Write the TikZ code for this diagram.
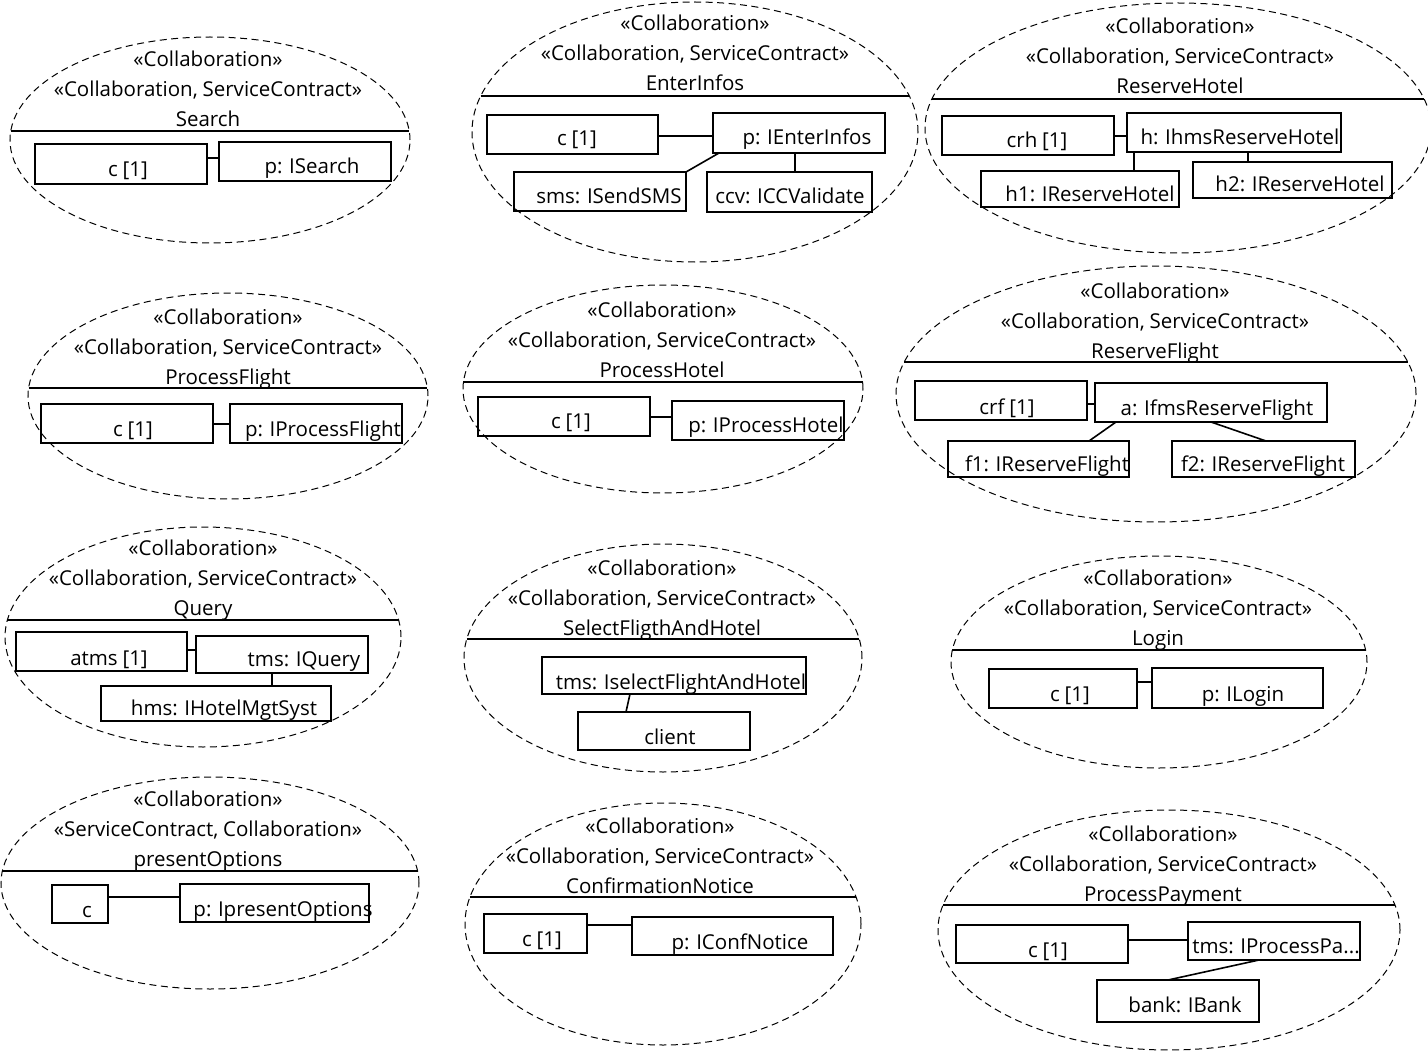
\documentclass[tikz,border=0pt]{standalone}
\usepackage{fontspec}
\setmainfont[WordSpace=0.9]{Open Sans}
\usetikzlibrary{shapes.geometric}
\tikzset{
 collell/.style={ellipse, draw, dash pattern=on 7pt off 4.5pt, line width=1pt, inner sep=0pt, outer sep=0pt},
 sepline/.style={line width=1.8pt},
 part/.style={draw, rectangle, line width=1.8pt, inner sep=0pt, outer sep=0pt},
 lbl/.style={anchor=base, inner sep=0pt, font=\fontsize{20.5}{24}\selectfont},
 conn/.style={line width=1.6pt},
}
% name cx cy rx ry liney
\newcommand\mkcoll[6]{%
 \node[collell, minimum width={2*#4*1pt}, minimum height={2*#5*1pt}] (#1) at (#2,#3) {};
 \draw[sepline] ({#2-#4*sqrt(1-((#6-#3)/#5)*((#6-#3)/#5))},#6) -- ({#2+#4*sqrt(1-((#6-#3)/#5)*((#6-#3)/#5))},#6);}
% name x y1 line1 line2 line3
\newcommand\mkhead[6]{%
 \node[lbl] (#1-a) at (#2,{#3+9}) {#4};
 \node[lbl] (#1-b) at (#2,{#3+39}) {#5};
 \node[lbl] (#1-c) at (#2,{#3+69}) {#6};}
% name x1 y1 x2 y2
\newcommand\mkbox[5]{\node[part, minimum width={(#4-#2)*1pt}, minimum height={(#5-#3)*1pt}] (#1) at ({(#2+#4)/2},{(#3+#5)/2}) {};}
% name x y text
\newcommand\mklbl[4]{\node[lbl] (#1) at (#2,{#3+9}) {#4};}
\begin{document}
\begin{tikzpicture}[x=1pt,y=-1pt]
\clip (0,0) rectangle (1428,1054);
\fill[white] (0,0) rectangle (1428,1054);

% ---------- Search
\mkcoll{S}{210}{140}{200}{103}{131}
\mkhead{Sh}{208}{58}{«Collaboration»}{«Collaboration, ServiceContract»}{Search}
\mkbox{Sc}{35}{144}{207}{184}
\mkbox{Sp}{219}{142}{391}{181}
\mklbl{Sct}{128}{168}{c [1]}
\mklbl{Spt}{312}{165}{p: ISearch}
\draw[conn] (Sc.east |- 0,158) -- (Sp.west |- 0,158);

% ---------- EnterInfos
\mkcoll{E}{695}{132}{223}{130}{96}
\mkhead{Eh}{695}{22}{«Collaboration»}{«Collaboration, ServiceContract»}{EnterInfos}
\mkbox{Ec}{487}{115}{658}{154}
\mkbox{Ep}{713}{113}{885}{153}
\mkbox{Es}{514}{172}{686}{211}
\mkbox{Ev}{707}{172}{872}{212}
\mklbl{Ect}{577}{137}{c [1]}
\mklbl{Ept}{807}{136}{p: IEnterInfos}
\mklbl{Est}{609}{195}{sms: ISendSMS}
\mklbl{Evt}{790}{195}{ccv: ICCValidate}
\draw[conn] (Ec.east |- 0,136) -- (Ep.west |- 0,136);
\draw[conn] (Ep.south -| 719,0) -- (Es.north east);
\draw[conn] (Ep.south -| 795,0) -- (Ev.north -| 795,0);

% ---------- ReserveHotel
\mkcoll{H}{1178}{128}{253}{125}{99}
\mkhead{Hh}{1180}{25}{«Collaboration»}{«Collaboration, ServiceContract»}{ReserveHotel}
\mkbox{Hc}{942}{116}{1114}{155}
\mkbox{Hp}{1127}{113}{1341}{152}
\mkbox{H1}{981}{171}{1179}{207}
\mkbox{H2}{1193}{162}{1392}{198}
\mklbl{Hct}{1037}{139}{crh [1]}
\mklbl{Hpt}{1240}{136}{h: IhmsReserveHotel}
\mklbl{H1t}{1090}{192}{h1: IReserveHotel}
\mklbl{H2t}{1300}{183}{h2: IReserveHotel}
\draw[conn] (Hc.east |- 0,136) -- (Hp.west |- 0,136);
\draw[conn] (Hp.south -| 1134,0) -- (H1.north -| 1134,0);
\draw[conn] (Hp.south -| 1248,0) -- (H2.north -| 1248,0);

% ---------- ProcessFlight
\mkcoll{F}{228}{396}{200}{103}{388}
\mkhead{Fh}{228}{315}{«Collaboration»}{«Collaboration, ServiceContract»}{ProcessFlight}
\mkbox{Fc}{41}{404}{213}{443}
\mkbox{Fp}{230}{404}{402}{443}
\mklbl{Fct}{133}{427}{c [1]}
\mklbl{Fpt}{323}{427}{p: IProcessFlight}
\draw[conn] (Fc.east |- 0,424) -- (Fp.west |- 0,424);

% ---------- ProcessHotel
\mkcoll{PH}{663}{389}{200}{104}{382}
\mkhead{PHh}{662}{308}{«Collaboration»}{«Collaboration, ServiceContract»}{ProcessHotel}
\mkbox{PHc}{478}{397}{650}{436}
\mkbox{PHp}{672}{401}{844}{440}
\mklbl{PHct}{571}{419}{c [1]}
\mklbl{PHpt}{766}{423}{p: IProcessHotel}
\draw[conn] (PHc.east |- 0,417) -- (PHp.west |- 0,417);

% ---------- ReserveFlight
\mkcoll{RF}{1156}{394}{260}{128}{362}
\mkhead{RFh}{1155}{289}{«Collaboration»}{«Collaboration, ServiceContract»}{ReserveFlight}
\mkbox{RFc}{915}{381}{1087}{420}
\mkbox{RFa}{1095}{383}{1327}{422}
\mkbox{RF1}{948}{441}{1129}{477}
\mkbox{RF2}{1172}{441}{1355}{477}
\mklbl{RFct}{1007}{405}{crf [1]}
\mklbl{RFat}{1217}{406}{a: IfmsReserveFlight}
\mklbl{RF1t}{1047}{462}{f1: IReserveFlight}
\mklbl{RF2t}{1263}{462}{f2: IReserveFlight}
\draw[conn] (RFc.east |- 0,404) -- (RFa.west |- 0,404);
\draw[conn] (RFa.south -| 1116,0) -- (RF1.north -| 1089,0);
\draw[conn] (RFa.south -| 1211,0) -- (RF2.north -| 1266,0);

% ---------- Query
\mkcoll{Q}{203}{637}{198}{110}{620}
\mkhead{Qh}{203}{546}{«Collaboration»}{«Collaboration, ServiceContract»}{Query}
\mkbox{Qa}{16}{632}{187}{671}
\mkbox{Qt}{196}{636}{368}{673}
\mkbox{Qm}{101}{686}{331}{721}
\mklbl{Qat}{109}{656}{atms [1]}
\mklbl{Qtt}{304}{657}{tms: IQuery}
\mklbl{Qmt}{224}{706}{hms: IHotelMgtSyst}
\draw[conn] (Qa.east |- 0,650) -- (Qt.west |- 0,650);
\draw[conn] (Qt.south -| 272,0) -- (Qm.north -| 272,0);

% ---------- SelectFligthAndHotel
\mkcoll{SF}{663}{658}{199}{114}{639}
\mkhead{SFh}{662}{566}{«Collaboration»}{«Collaboration, ServiceContract»}{SelectFligthAndHotel}
\mkbox{SFt}{542}{657}{806}{694}
\mkbox{SFc}{578}{712}{750}{750}
\mklbl{SFtt}{681}{680}{tms: IselectFlightAndHotel}
\mklbl{SFct}{670}{735}{client}
\draw[conn] (SFt.south -| 630,0) -- (SFc.north -| 626,0);

% ---------- Login
\mkcoll{L}{1159}{662}{208}{106}{650}
\mkhead{Lh}{1158}{576}{«Collaboration»}{«Collaboration, ServiceContract»}{Login}
\mkbox{Lc}{989}{669}{1137}{708}
\mkbox{Lp}{1152}{668}{1323}{708}
\mklbl{Lct}{1070}{692}{c [1]}
\mklbl{Lpt}{1243}{692}{p: ILogin}
\draw[conn] (Lc.east |- 0,682) -- (Lp.west |- 0,682);

% ---------- presentOptions
\mkcoll{PO}{210}{883}{209}{106}{871}
\mkhead{POh}{208}{797}{«Collaboration»}{«ServiceContract, Collaboration»}{presentOptions}
\mkbox{POc}{52}{885}{108}{923}
\mkbox{POp}{180}{884}{369}{922}
\mklbl{POct}{87}{908}{c}
\mklbl{POpt}{283}{907}{p: IpresentOptions}
\draw[conn] (POc.east |- 0,897) -- (POp.west |- 0,897);

% ---------- ConfirmationNotice
\mkcoll{CN}{663}{924}{198}{121}{897}
\mkhead{CNh}{660}{824}{«Collaboration»}{«Collaboration, ServiceContract»}{ConfirmationNotice}
\mkbox{CNc}{484}{914}{587}{953}
\mkbox{CNp}{632}{917}{833}{955}
\mklbl{CNct}{542}{937}{c [1]}
\mklbl{CNpt}{740}{940}{p: IConfNotice}
\draw[conn] (CNc.east |- 0,925) -- (CNp.west |- 0,925);

% ---------- ProcessPayment
\mkcoll{PP}{1169}{930}{231}{120}{905}
\mkhead{PPh}{1163}{832}{«Collaboration»}{«Collaboration, ServiceContract»}{ProcessPayment}
\mkbox{PPc}{956}{925}{1128}{963}
\mkbox{PPt}{1188}{922}{1360}{960}
\mkbox{PPb}{1097}{980}{1259}{1022}
\mklbl{PPct}{1048}{948}{c [1]}
\mklbl{PPtt}{1276}{944}{tms: IProcessPa...}
\mklbl{PPbt}{1185}{1003}{bank: IBank}
\draw[conn] (PPc.east |- 0,940) -- (PPt.west |- 0,940);
\draw[conn] (PPt.south -| 1259,0) -- (PPb.north -| 1168,0);
\end{tikzpicture}
\end{document}
